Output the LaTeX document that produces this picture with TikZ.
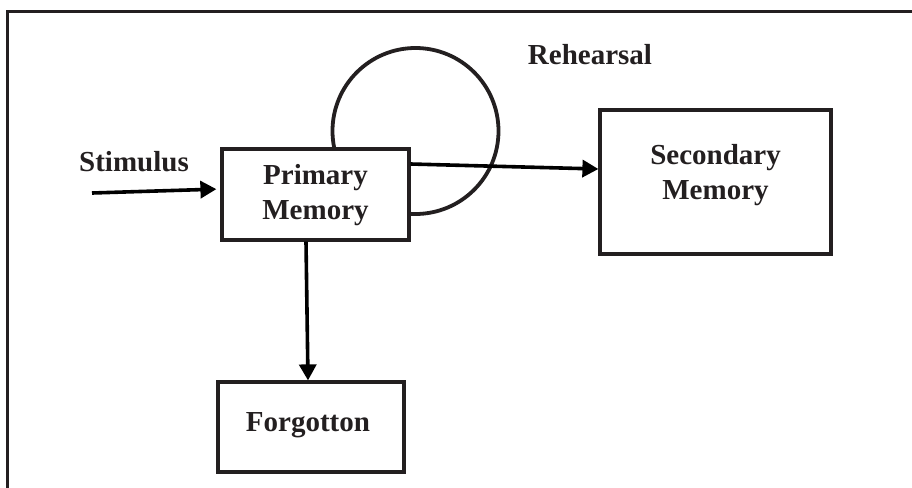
\documentclass[tikz,border=0pt]{standalone}
\usepackage{fontspec}
\setmainfont{Liberation Serif}
\usetikzlibrary{arrows.meta}
\definecolor{ink}{HTML}{231F20}
\tikzset{
  box/.style={draw=ink, line width=1.6pt, rectangle, fill=white, inner sep=0pt},
  lbl/.style={text=ink, font=\bfseries\fontsize{14.5}{17.5}\selectfont, align=center, inner sep=0pt},
  flow/.style={draw=black, line width=1.8pt, -{Triangle[length=8pt,width=8.5pt]}},
  frame/.style={draw=ink, line width=1.5pt}
}
\begin{document}
\begin{tikzpicture}[x=0.5pt, y=-0.5pt]
  \useasboundingbox (0,0) rectangle (912,488);
  % open frame: top and left edges only
  \coordinate (fbl) at (7,490);
  \coordinate (ftl) at (7,11);
  \coordinate (ftr) at (914,11);
  \draw[frame] (fbl) -- (ftl) -- (ftr);

  % rehearsal loop, partly hidden behind the primary memory box
  \node[circle, draw=ink, line width=1.9pt, minimum size=83pt, inner sep=0pt] (loop) at (415.5,131) {};

  % boxes
  \node[box, minimum width=93.5pt, minimum height=45.5pt] (prim) at (315.5,194.5) {};
  \node[lbl] (primtxt) at (315.5,195.5) {Primary\\Memory};
  \node[box, minimum width=115.5pt, minimum height=72pt] (sec) at (715.5,182) {};
  \node[lbl] (sectxt) at (715.5,175) {Secondary\\Memory};
  \node[box, minimum width=93pt, minimum height=45pt] (forg) at (311,427) {};
  \node[lbl] (forgtxt) at (308,425) {Forgotton};

  % free labels
  \node[lbl] (stim) at (134,162) {Stimulus};
  \node[lbl] (reh) at (590,55) {Rehearsal};

  % connectors
  \coordinate (stimstart) at (92,193);
  \draw[flow, shorten >=2pt] (stimstart) -- ([yshift=2.75pt]prim.west);
  \draw[flow] ([yshift=15.25pt]prim.east) -- ([yshift=6.5pt]sec.west);
  \draw[flow] ([xshift=-4.75pt]prim.south) -- ([xshift=-1.5pt]forg.north);
\end{tikzpicture}
\end{document}
